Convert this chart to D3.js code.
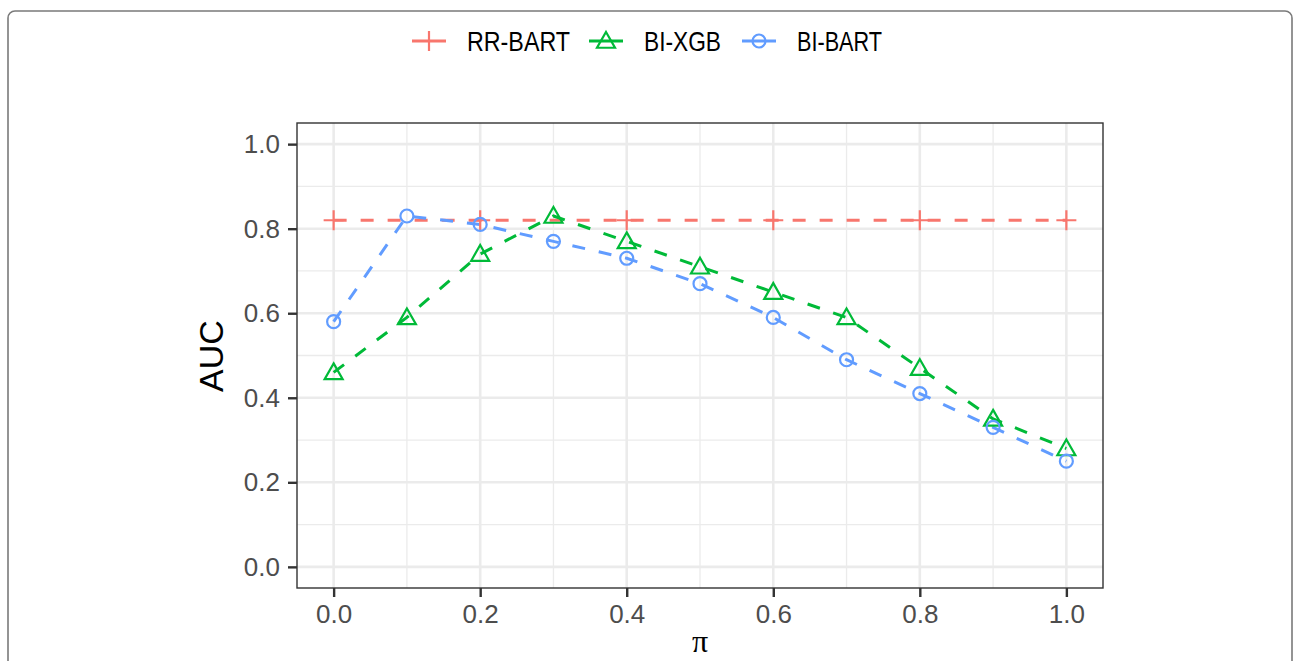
<html>
  <head>
    <script src="https://d3js.org/d3.v7.min.js"></script>
    <style>
      body { margin: 0; background: #fff; }
    </style>
  </head>
  <body>
    <svg id="chart" width="1294" height="661"></svg>
    <script>
      // data
      var piValues = [0.0, 0.1, 0.2, 0.3, 0.4, 0.5, 0.6, 0.7, 0.8, 0.9, 1.0];
      var rrPi = [0.0, 0.2, 0.4, 0.6, 0.8, 1.0];
      var rrBart = [0.82, 0.82, 0.82, 0.82, 0.82, 0.82];
      var biXgb = [0.46, 0.59, 0.74, 0.83, 0.77, 0.71, 0.65, 0.59, 0.47, 0.35, 0.28];
      var biBart = [0.58, 0.83, 0.81, 0.77, 0.73, 0.67, 0.59, 0.49, 0.41, 0.33, 0.25];
      var seriesNames = ["RR-BART", "BI-XGB", "BI-BART"];
      var xTicks = [0.0, 0.2, 0.4, 0.6, 0.8, 1.0];
      var yTicks = [0.0, 0.2, 0.4, 0.6, 0.8, 1.0];
      var xMinor = [0.1, 0.3, 0.5, 0.7, 0.9];
      var yMinor = [0.1, 0.3, 0.5, 0.7, 0.9];

      var colors = ["#F8766D", "#00BA38", "#619CFF"];
      var shapes = ["plus", "triangle", "circle"];
      var xsFor = [rrPi, piValues, piValues];
      var series = [rrBart, biXgb, biBart].map(function (vals, i) {
        return {
          name: seriesNames[i],
          color: colors[i],
          shape: shapes[i],
          values: vals.map(function (v, j) { return { x: xsFor[i][j], y: v }; })
        };
      });

      var svg = d3.select("#chart");

      // outer rounded frame
      svg.append("rect")
        .attr("x", 8).attr("y", 11)
        .attr("width", 1284).attr("height", 700)
        .attr("rx", 7)
        .attr("fill", "none")
        .attr("stroke", "#7a7a7a")
        .attr("stroke-width", 1.6);

      var panel = { left: 297, right: 1103, top: 123, bottom: 588 };

      var x = d3.scaleLinear().domain([-0.05, 1.05]).range([panel.left, panel.right]);
      var y = d3.scaleLinear().domain([-0.05, 1.05]).range([panel.bottom, panel.top]);

      var g = svg.append("g");

      // minor grid
      g.selectAll(".xminor").data(xMinor).enter().append("line")
        .attr("x1", function (d) { return x(d); }).attr("x2", function (d) { return x(d); })
        .attr("y1", panel.top).attr("y2", panel.bottom)
        .attr("stroke", "#ebebeb").attr("stroke-width", 1.3);
      g.selectAll(".yminor").data(yMinor).enter().append("line")
        .attr("y1", function (d) { return y(d); }).attr("y2", function (d) { return y(d); })
        .attr("x1", panel.left).attr("x2", panel.right)
        .attr("stroke", "#ebebeb").attr("stroke-width", 1.3);

      // major grid
      g.selectAll(".xmajor").data(xTicks).enter().append("line")
        .attr("x1", function (d) { return x(d); }).attr("x2", function (d) { return x(d); })
        .attr("y1", panel.top).attr("y2", panel.bottom)
        .attr("stroke", "#ebebeb").attr("stroke-width", 2.6);
      g.selectAll(".ymajor").data(yTicks).enter().append("line")
        .attr("y1", function (d) { return y(d); }).attr("y2", function (d) { return y(d); })
        .attr("x1", panel.left).attr("x2", panel.right)
        .attr("stroke", "#ebebeb").attr("stroke-width", 2.6);

      // axes
      var xAxis = g.append("g")
        .attr("transform", "translate(0," + panel.bottom + ")")
        .call(d3.axisBottom(x).tickValues(xTicks).tickFormat(d3.format(".1f")).tickSize(9).tickPadding(8));
      var yAxis = g.append("g")
        .attr("transform", "translate(" + panel.left + ",0)")
        .call(d3.axisLeft(y).tickValues(yTicks).tickFormat(d3.format(".1f")).tickSize(9).tickPadding(8));
      [xAxis, yAxis].forEach(function (a) {
        a.select(".domain").remove();
        a.selectAll(".tick line").attr("stroke", "#333").attr("stroke-width", 2.4);
        a.selectAll(".tick text")
          .attr("fill", "#4d4d4d")
          .style("font-family", "Liberation Sans, Arial, sans-serif")
          .style("font-size", "26px");
      });

      // panel border
      g.append("rect")
        .attr("x", panel.left).attr("y", panel.top)
        .attr("width", panel.right - panel.left).attr("height", panel.bottom - panel.top)
        .attr("fill", "none").attr("stroke", "#333").attr("stroke-width", 1.4);

      var line = d3.line().x(function (d) { return x(d.x); }).y(function (d) { return y(d.y); });

      function drawShape(sel, shape, color, cx, cy) {
        if (shape === "plus") {
          sel.append("path")
            .attr("d", "M" + (cx - 10) + "," + cy + "H" + (cx + 10) + "M" + cx + "," + (cy - 10) + "V" + (cy + 10))
            .attr("stroke", color).attr("stroke-width", 2.2).attr("fill", "none");
        } else if (shape === "triangle") {
          var s = 9;
          sel.append("path")
            .attr("d", "M" + cx + "," + (cy - s * 1.0) + "L" + (cx + s) + "," + (cy + s * 0.75) + "L" + (cx - s) + "," + (cy + s * 0.75) + "Z")
            .attr("stroke", color).attr("stroke-width", 2.2).attr("fill", "none");
        } else {
          sel.append("circle")
            .attr("cx", cx).attr("cy", cy).attr("r", 6.5)
            .attr("stroke", color).attr("stroke-width", 2.2).attr("fill", "none");
        }
      }

      series.forEach(function (s) {
        g.append("path")
          .datum(s.values)
          .attr("d", line)
          .attr("fill", "none")
          .attr("stroke", s.color)
          .attr("stroke-width", 3)
          .attr("stroke-dasharray", "13,14");
      });
      series.forEach(function (s) {
        var pts = g.append("g");
        s.values.forEach(function (d) {
          drawShape(pts, s.shape, s.color, x(d.x), y(d.y));
        });
      });

      // axis titles
      svg.append("text")
        .attr("transform", "translate(223,356) rotate(-90)")
        .attr("text-anchor", "middle")
        .style("font-family", "Liberation Sans, Arial, sans-serif")
        .style("font-size", "34px")
        .attr("fill", "#000")
        .text("AUC");
      svg.append("text")
        .attr("x", 700).attr("y", 652)
        .attr("text-anchor", "middle")
        .style("font-family", "Liberation Serif, Times New Roman, serif")
        .style("font-size", "32px")
        .attr("fill", "#000")
        .text("\u03c0");

      // legend
      var legendKeyX = [412, 589, 742];
      var legendTextW = [103, 77, 85];
      var legendY = 41;
      var legend = svg.append("g");
      series.forEach(function (s, i) {
        var lx = legendKeyX[i];
        legend.append("line")
          .attr("x1", lx).attr("x2", lx + 34)
          .attr("y1", legendY).attr("y2", legendY)
          .attr("stroke", s.color).attr("stroke-width", 3);
        drawShape(legend, s.shape, s.color, lx + 17, legendY);
        legend.append("text")
          .attr("x", lx + 55).attr("y", legendY + 10)
          .attr("textLength", legendTextW[i])
          .attr("lengthAdjust", "spacingAndGlyphs")
          .style("font-family", "Liberation Sans, Arial, sans-serif")
          .style("font-size", "28px")
          .attr("fill", "#000")
          .text(s.name);
      });
    </script>
  </body>
</html>
